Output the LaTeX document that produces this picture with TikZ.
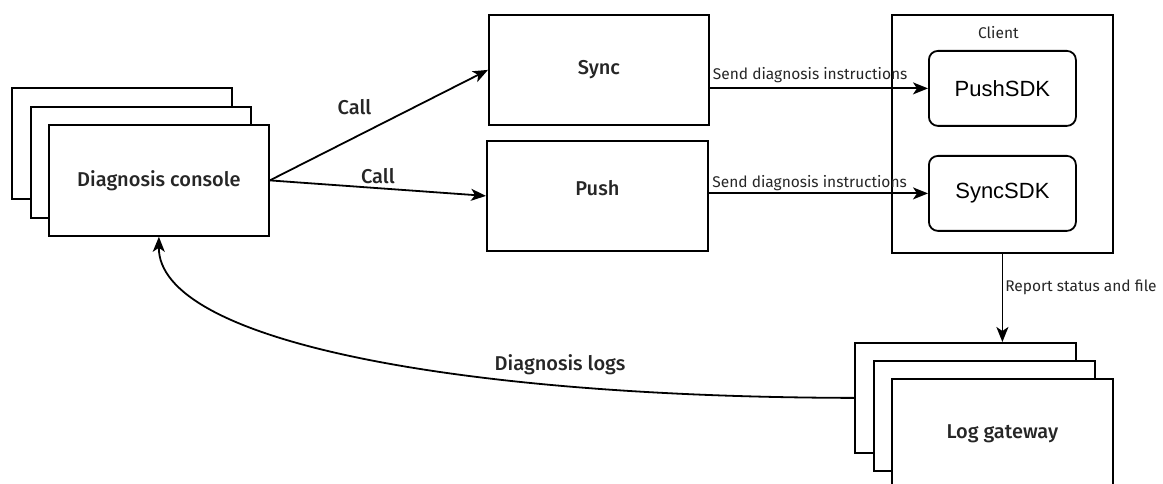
\documentclass[tikz,border=0pt]{standalone}
\usepackage{fontspec}
\setmainfont{Fira Sans}[BoldFont={* Medium}]
\newfontfamily\sdkfont{Liberation Sans}
\usetikzlibrary{arrows.meta,positioning,calc}
\definecolor{dxInk}{RGB}{38,38,38}
\newcommand{\dxBig}{\fontsize{20}{23}\selectfont\bfseries}
\newcommand{\dxSmall}{\fontsize{15.5}{18}\selectfont}

\begin{document}
\begin{tikzpicture}[
  x=1pt,y=-1pt,line width=1.8pt,
  box/.style={rectangle,draw=black,fill=white,anchor=north west,
              inner sep=0pt,text=dxInk,font=\dxBig},
  sdk/.style={rectangle,rounded corners=9pt,draw=black,fill=white,
              anchor=north west,inner sep=0pt,
              font=\sdkfont\fontsize{22}{24}\selectfont},
  arr/.style={-{Stealth[length=15pt,width=12pt,inset=4pt]}},
  lbl/.style={text=dxInk,font=\dxBig,inner sep=2pt},
  slbl/.style={text=dxInk,font=\dxSmall,inner sep=2pt}
]
\useasboundingbox (0,0) rectangle (1163,484);
\clip (0,0) rectangle (1163,484);

% --- Diagnosis console stack
\node[box,minimum width=220,minimum height=111] (dcA) at (11,87) {};
\node[box,minimum width=220,minimum height=111] (dcB) at (30,106) {};
\node[box,minimum width=220,minimum height=111] (dc) at (48,124) {Diagnosis console};

% --- Channels
\node[box,minimum width=220,minimum height=110] (sync) at (488,14) {Sync};
\node[box,minimum width=221,minimum height=110] (push) at (486,140) {};
\node[lbl] (pushLbl) at ([yshift=8pt]push.center) {Push};

% --- Client
\node[box,minimum width=221,minimum height=238] (client) at (891,14) {};
\node[slbl,below=10pt of client.north,xshift=-4pt] (clientLbl) {Client};
\node[sdk,minimum width=147,minimum height=75] (pushsdk) at (928,50) {PushSDK};
\node[sdk,minimum width=147,minimum height=75] (syncsdk) at (928,155) {SyncSDK};

% --- Log gateway stack
\node[box,minimum width=221,minimum height=110] (lgA) at (854,342) {};
\node[box,minimum width=221,minimum height=110] (lgB) at (873,360) {};
\node[box,minimum width=221,minimum height=110] (lg) at (891,378) {Log gateway};

% --- Connectors
\draw[arr] (dc.east) -- (sync.west)
  node[lbl,pos=0.42,above=16pt,xshift=-7pt] (callA) {Call};
\draw[arr] (dc.east) -- (push.west)
  node[lbl,midway,above=1pt] (callB) {Call};
\draw[arr] (sync.east |- pushsdk.west) -- (pushsdk.west)
  node[slbl,pos=0.46,above=3pt] (sendA) {Send diagnosis instructions};
\draw[arr] (push.east |- syncsdk.west) -- (syncsdk.west)
  node[slbl,pos=0.46,above] (sendB) {Send diagnosis instructions};
\draw[arr] (client.south) -- (client.south |- lgA.north)
  node[slbl,pos=0.38,right] (report) {Report status and file};
\draw[arr] (lgA.west) .. controls (450,397) and (158,340) .. (dc.south);
\node[lbl] (logsLbl) at (560,365) {Diagnosis logs};
\end{tikzpicture}
\end{document}
